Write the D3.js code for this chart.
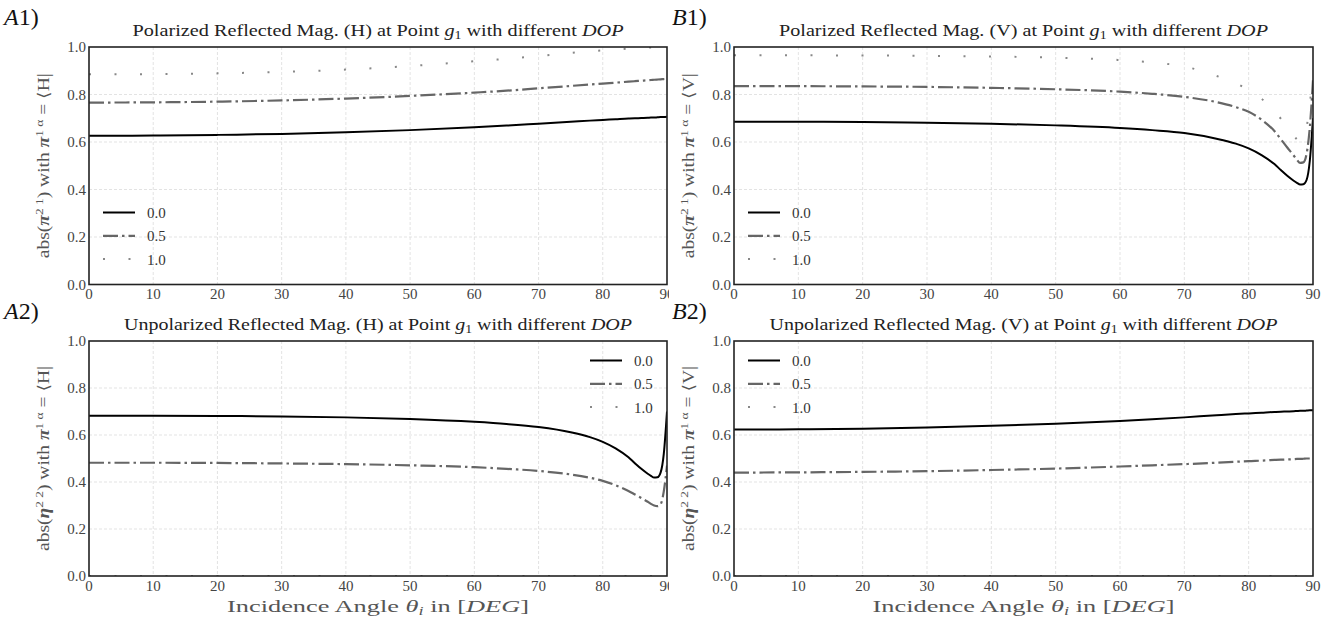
<!DOCTYPE html>
<html>
<head>
<meta charset="utf-8">
<script src="https://cdn.jsdelivr.net/npm/d3@7"></script>
<style>
  body { margin: 0; background: #fff; }
  text { font-family: "Liberation Serif", "DejaVu Serif", serif; }
</style>
</head>
<body>
<div id="frame"></div>
<script>
// ---- data ----
const angles = [0, 10, 20, 30, 40, 50, 60, 65, 70, 75, 78, 80, 82, 84, 85, 86, 87, 87.5, 88, 88.5, 89, 89.5, 90];
const xTicks = [0, 10, 20, 30, 40, 50, 60, 70, 80, 90];
const yTicks = [0, 0.2, 0.4, 0.6, 0.8, 1.0];
const dopLabels = ['0.0', '0.5', '1.0'];

// A1: polarized, H
const polH_0 = [0.626, 0.627, 0.630, 0.634, 0.641, 0.650, 0.662, 0.669, 0.677, 0.685, 0.690, 0.693, 0.696, 0.699, 0.700, 0.701, 0.702, 0.703, 0.703, 0.704, 0.705, 0.705, 0.706];
const polH_5 = [0.766, 0.767, 0.770, 0.775, 0.783, 0.794, 0.808, 0.816, 0.826, 0.836, 0.842, 0.846, 0.850, 0.854, 0.856, 0.858, 0.860, 0.861, 0.862, 0.863, 0.864, 0.865, 0.866];
const polH_1 = [0.885, 0.886, 0.889, 0.895, 0.905, 0.920, 0.940, 0.950, 0.962, 0.975, 0.982, 0.986, 0.990, 0.993, 0.995, 0.996, 0.997, 0.998, 0.998, 0.999, 0.999, 1.0, 1.0];
// B1: polarized, V
const polV_0 = [0.685, 0.685, 0.684, 0.681, 0.677, 0.670, 0.659, 0.650, 0.638, 0.614, 0.593, 0.573, 0.545, 0.507, 0.482, 0.458, 0.437, 0.428, 0.421, 0.422, 0.440, 0.520, 0.700];
const polV_5 = [0.835, 0.835, 0.834, 0.832, 0.828, 0.822, 0.812, 0.803, 0.790, 0.768, 0.747, 0.727, 0.694, 0.646, 0.612, 0.577, 0.543, 0.525, 0.512, 0.514, 0.550, 0.660, 0.860];
const polV_1 = [0.965, 0.965, 0.964, 0.963, 0.960, 0.955, 0.945, 0.935, 0.918, 0.878, 0.848, 0.818, 0.782, 0.730, 0.698, 0.663, 0.628, 0.612, 0.605, 0.613, 0.660, 0.760, 0.880];
// A2: unpolarized, H
const unpH_0 = [0.682, 0.682, 0.681, 0.679, 0.675, 0.668, 0.656, 0.647, 0.634, 0.612, 0.591, 0.571, 0.543, 0.505, 0.480, 0.456, 0.435, 0.426, 0.419, 0.420, 0.440, 0.520, 0.700];
const unpH_5 = [0.482, 0.482, 0.481, 0.479, 0.476, 0.471, 0.463, 0.456, 0.447, 0.432, 0.418, 0.405, 0.386, 0.362, 0.347, 0.332, 0.316, 0.307, 0.300, 0.297, 0.305, 0.360, 0.470];
const unpH_1 = [0, 0, 0, 0, 0, 0, 0, 0, 0, 0, 0, 0, 0, 0, 0, 0, 0, 0, 0, 0, 0, 0, 0];
// B2: unpolarized, V
const unpV_0 = [0.623, 0.624, 0.627, 0.632, 0.639, 0.648, 0.660, 0.667, 0.675, 0.684, 0.689, 0.692, 0.695, 0.698, 0.699, 0.700, 0.701, 0.702, 0.703, 0.703, 0.704, 0.705, 0.705];
const unpV_5 = [0.440, 0.441, 0.443, 0.446, 0.451, 0.457, 0.466, 0.471, 0.476, 0.482, 0.486, 0.489, 0.491, 0.494, 0.495, 0.496, 0.497, 0.498, 0.498, 0.499, 0.500, 0.500, 0.501];
const unpV_1 = [0, 0, 0, 0, 0, 0, 0, 0, 0, 0, 0, 0, 0, 0, 0, 0, 0, 0, 0, 0, 0, 0, 0];

// ---- layout ----
const W = 1335, H = 624;
const cols = [{ left: 89, right: 667, clip: 669 }, { left: 734, right: 1313, clip: W }];
const rows = [{ top: 47, bottom: 284.5 }, { top: 341, bottom: 576 }];

const styles = [
  { stroke: '#000', width: 2, dash: null },
  { stroke: '#666', width: 2.2, dash: '15 4 2.5 4' },
  { stroke: '#888', width: 2, dash: '2 23.5' }
];

const panels = [
  { letter: 'A', num: '1', col: 0, row: 0, kind: 'Polarized', pol: 'H', eta: false,
    series: [polH_0, polH_5, polH_1], legend: 'lowerleft', titleLen: 491 },
  { letter: 'B', num: '1', col: 1, row: 0, kind: 'Polarized', pol: 'V', eta: false,
    series: [polV_0, polV_5, polV_1], legend: 'lowerleft', titleLen: 489 },
  { letter: 'A', num: '2', col: 0, row: 1, kind: 'Unpolarized', pol: 'H', eta: true,
    series: [unpH_0, unpH_5, unpH_1], legend: 'upperright', titleLen: 508 },
  { letter: 'B', num: '2', col: 1, row: 1, kind: 'Unpolarized', pol: 'V', eta: true,
    series: [unpV_0, unpV_5, unpV_1], legend: 'upperleft', titleLen: 508 }
];

const svg = d3.select('#frame').append('svg')
  .attr('width', W).attr('height', H)
  .style('display', 'block');

const defs = svg.append('defs');

panels.forEach((p, i) => {
  const c = cols[p.col], r = rows[p.row];
  const x = d3.scaleLinear().domain([0, 90]).range([c.left, c.right]);
  const y = d3.scaleLinear().domain([0, 1]).range([r.bottom, r.top]);

  // the A column is cut off on its right side in the reference
  defs.append('clipPath').attr('id', 'col' + i)
    .append('rect').attr('x', c.left - 95).attr('y', 0).attr('width', c.clip - c.left + 95).attr('height', H);
  defs.append('clipPath').attr('id', 'plot' + i)
    .append('rect').attr('x', c.left).attr('y', r.top).attr('width', c.right - c.left).attr('height', r.bottom - r.top);

  const g = svg.append('g').attr('clip-path', `url(#col${i})`);

  // grid
  g.append('g').selectAll('line').data(xTicks.slice(1, -1)).join('line')
    .attr('x1', d => x(d)).attr('x2', d => x(d))
    .attr('y1', r.top).attr('y2', r.bottom)
    .attr('stroke', '#dcdcdc').attr('stroke-width', 0.8).attr('stroke-dasharray', '3 2');
  g.append('g').selectAll('line').data(yTicks.slice(1, -1)).join('line')
    .attr('y1', d => y(d)).attr('y2', d => y(d))
    .attr('x1', c.left).attr('x2', c.right)
    .attr('stroke', '#dcdcdc').attr('stroke-width', 0.8).attr('stroke-dasharray', '3 2');

  // curves
  const line = d3.line().x((d, k) => x(angles[k])).y(d => y(d)).curve(d3.curveMonotoneX);
  const lg = g.append('g').attr('clip-path', `url(#plot${i})`);
  p.series.forEach((s, k) => {
    lg.append('path').datum(s)
      .attr('d', line)
      .attr('fill', 'none')
      .attr('stroke', styles[k].stroke)
      .attr('stroke-width', styles[k].width)
      .attr('stroke-dasharray', styles[k].dash);
  });

  // frame
  g.append('rect')
    .attr('x', c.left).attr('y', r.top)
    .attr('width', c.right - c.left).attr('height', r.bottom - r.top)
    .attr('fill', 'none').attr('stroke', '#222').attr('stroke-width', 1.6);

  // tick labels
  g.append('g').selectAll('text').data(xTicks).join('text')
    .attr('x', d => x(d)).attr('y', r.bottom + 14.5)
    .attr('text-anchor', 'middle').attr('font-size', 15).attr('fill', '#444')
    .text(d => d);
  g.append('g').selectAll('text').data(yTicks).join('text')
    .attr('x', c.left - 3).attr('y', d => y(d) + 5)
    .attr('text-anchor', 'end').attr('font-size', 15).attr('fill', '#444')
    .text(d => d.toFixed(1));

  // legend
  let lx, ly0;
  if (p.legend === 'lowerleft') { lx = c.left + 14; ly0 = r.bottom - 72; }
  else if (p.legend === 'upperright') { lx = c.right - 77; ly0 = r.top + 19.5; }
  else { lx = c.left + 14; ly0 = r.top + 19.5; }
  dopLabels.forEach((lab, k) => {
    const yy = ly0 + k * 23.3;
    g.append('line')
      .attr('x1', lx).attr('x2', lx + 32).attr('y1', yy).attr('y2', yy)
      .attr('stroke', styles[k].stroke).attr('stroke-width', styles[k].width)
      .attr('stroke-dasharray', styles[k].dash);
    g.append('text')
      .attr('x', lx + 44).attr('y', yy + 5.5)
      .attr('font-size', 15).attr('fill', '#333')
      .text(lab);
  });

  // title
  const cx = (c.left + c.right) / 2;
  const t = g.append('text')
    .attr('x', cx).attr('y', r.top - 11)
    .attr('text-anchor', 'middle').attr('font-size', 17.5).attr('fill', '#222')
    .attr('textLength', p.titleLen).attr('lengthAdjust', 'spacingAndGlyphs');
  t.append('tspan').text(`${p.kind} Reflected Mag. (${p.pol}) at Point `);
  t.append('tspan').attr('font-style', 'italic').text('g');
  t.append('tspan').attr('font-size', 12).attr('dy', 3).text('1');
  t.append('tspan').attr('dy', -3).text(' with different ');
  t.append('tspan').attr('font-style', 'italic').text('DOP');

  // panel label
  const pl = svg.append('text')
    .attr('x', p.col === 0 ? 4 : 672).attr('y', r.top - 22)
    .attr('font-size', 24).attr('fill', '#111');
  pl.append('tspan').attr('font-style', 'italic').text(p.letter);
  pl.append('tspan').text(p.num + ')');

  // y label
  const ylab = g.append('text')
    .attr('transform', `translate(${c.left - 40},${(r.top + r.bottom) / 2}) rotate(-90)`)
    .attr('text-anchor', 'middle').attr('font-size', 16).attr('fill', '#555')
    .attr('textLength', 185).attr('lengthAdjust', 'spacingAndGlyphs');
  ylab.append('tspan').text('abs(');
  ylab.append('tspan').attr('font-weight', 'bold').attr('font-style', 'italic').text(p.eta ? 'η' : 'π');
  ylab.append('tspan').attr('font-size', 11).attr('dy', -6).text(p.eta ? '2 2' : '2 1');
  ylab.append('tspan').attr('dy', 6).text(') with ');
  ylab.append('tspan').attr('font-weight', 'bold').attr('font-style', 'italic').text('π');
  ylab.append('tspan').attr('font-size', 11).attr('dy', -6).text('1 α');
  ylab.append('tspan').attr('dy', 6).text(` = ⟨${p.pol}|`);

  // x label (bottom row only)
  if (p.row === 1) {
    const xl = g.append('text')
      .attr('x', cx).attr('y', r.bottom + 36)
      .attr('text-anchor', 'middle').attr('font-size', 16.5).attr('fill', '#555')
      .attr('textLength', 302).attr('lengthAdjust', 'spacingAndGlyphs');
    xl.append('tspan').text('Incidence Angle ');
    xl.append('tspan').attr('font-style', 'italic').text('θ');
    xl.append('tspan').attr('font-style', 'italic').attr('font-size', 11.5).attr('dy', 3).text('i');
    xl.append('tspan').attr('dy', -3).text(' in [');
    xl.append('tspan').attr('font-style', 'italic').text('DEG');
    xl.append('tspan').text(']');
  }
});
</script>
</body>
</html>
